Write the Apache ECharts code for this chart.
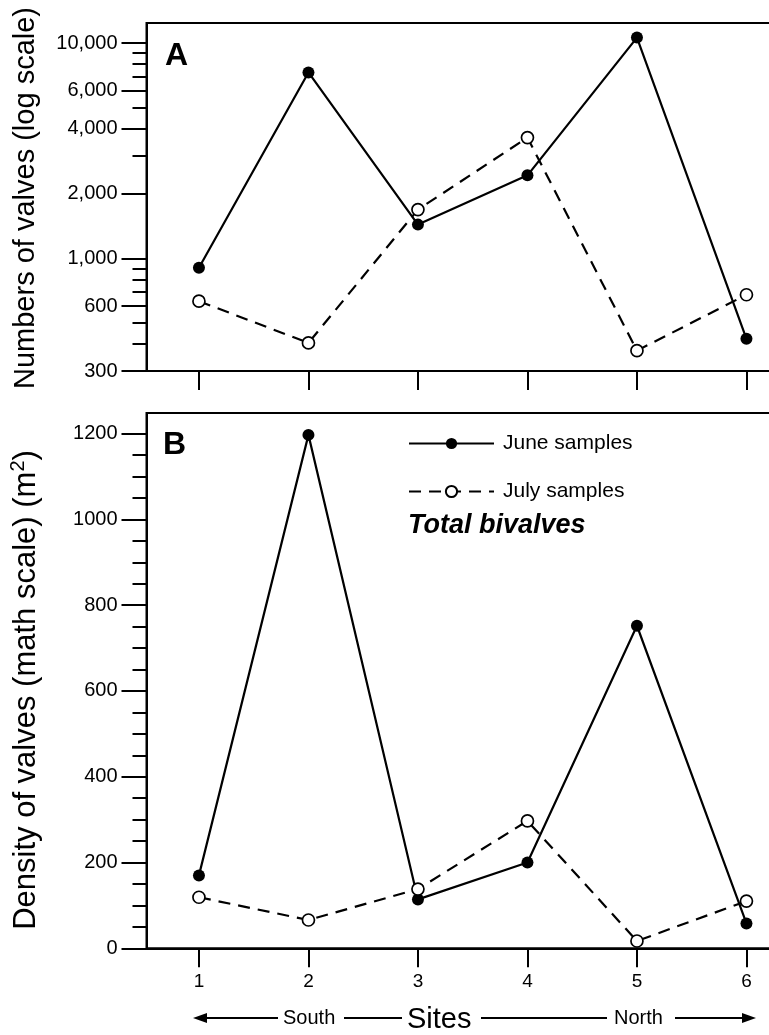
<!DOCTYPE html>
<html><head><meta charset="utf-8">
<script src="https://cdn.jsdelivr.net/npm/echarts@6/dist/echarts.min.js"></script>
<style>html,body{margin:0;padding:0;background:#fff;overflow:hidden;width:769px;height:1035px}#c{width:800px;height:1035px}</style>
</head><body><div id="c"></div>
<script>
// ---- data ----
const sites = [1, 2, 3, 4, 5, 6];
const siteLabels = ['1', '2', '3', '4', '5', '6'];
const juneCounts = [905, 7300, 1435, 2430, 10600, 423];
const julyCounts = [633, 405, 1685, 3640, 373, 678];
const juneDensity = [170, 1197, 114, 200, 752, 58];
const julyDensity = [119, 66, 138, 297, 17, 110];
const countTicks = [300, 600, 1000, 2000, 4000, 6000, 10000];
const countMinorTicks = [400, 500, 700, 800, 900, 3000, 5000, 7000, 8000, 9000];
const densityTicks = [0, 200, 400, 600, 800, 1000, 1200];
const densityMinorTicks = [50, 100, 150, 250, 300, 350, 450, 500, 550, 650, 700, 750, 850, 900, 950, 1050, 1100, 1150];
const seriesNames = ['June samples', 'July samples'];

const FONT = "'Liberation Sans', Arial, Helvetica, sans-serif";
const pairs = (xs, ys) => xs.map((x, i) => [x, ys[i]]);

const chart = echarts.init(document.getElementById('c'), null, {renderer: 'canvas'});

const gridLeft = 146.5, gridW = 652.4;
const xMin = 0.521, xMax = 6.479;

function xAxisCfg(gi, showLabels) {
  return {
    type: 'value', gridIndex: gi, min: xMin, max: xMax, position: 'bottom',
    axisLine: {show: true, lineStyle: {color: '#000', width: 2}},
    axisTick: {show: true, customValues: sites, length: 19, lineStyle: {color: '#000', width: 2}},
    axisLabel: {show: showLabels, customValues: sites, formatter: v => siteLabels[sites.indexOf(v)],
      fontSize: 19, color: '#000', margin: 24, fontFamily: FONT},
    splitLine: {show: false}
  };
}

function yMajor(gi, type, min, max, ticks, fmt) {
  return {
    type: type, gridIndex: gi, min: min, max: max, logBase: 10, position: 'left',
    axisLine: {show: true, lineStyle: {color: '#000', width: 2}},
    axisTick: {show: true, customValues: ticks, length: 25, lineStyle: {color: '#000', width: 2}},
    axisLabel: {show: true, customValues: ticks, formatter: fmt, fontSize: 20, color: '#000', margin: 29, fontFamily: FONT},
    splitLine: {show: false}, minorTick: {show: false}
  };
}
function yMinor(gi, type, min, max, ticks) {
  return {
    type: type, gridIndex: gi, min: min, max: max, logBase: 10, position: 'left', offset: 0,
    axisLine: {show: false},
    axisTick: {show: true, customValues: ticks, length: 14, lineStyle: {color: '#000', width: 2}},
    axisLabel: {show: false},
    splitLine: {show: false}
  };
}

const juneStyle = {
  symbol: 'circle', symbolSize: 12,
  itemStyle: {color: '#000'},
  lineStyle: {color: '#000', width: 2.2, type: 'solid'}
};
const julyStyle = {
  symbol: 'circle', symbolSize: 12,
  itemStyle: {color: '#fff', borderColor: '#000', borderWidth: 1.7},
  lineStyle: {color: '#000', width: 2.2, type: [12, 8]}
};

const option = {
  animation: false,
  backgroundColor: '#fff',
  textStyle: {fontFamily: FONT, color: '#000'},
  grid: [
    {left: gridLeft, top: 23, width: gridW, height: 348, show: true, borderColor: '#000', borderWidth: 2, backgroundColor: 'transparent'},
    {left: gridLeft, top: 413, width: gridW, height: 535.3, show: true, borderColor: '#000', borderWidth: 2, backgroundColor: 'transparent'}
  ],
  xAxis: [xAxisCfg(0, false), xAxisCfg(1, true)],
  yAxis: [
    yMajor(0, 'log', 300, 12390, countTicks, v => Number(v).toLocaleString('en-US')),
    yMinor(0, 'log', 300, 12390, countMinorTicks),
    yMajor(1, 'value', 0, 1248, densityTicks, v => String(v)),
    yMinor(1, 'value', 0, 1248, densityMinorTicks)
  ],
  legend: {
    data: seriesNames,
    orient: 'vertical', left: 403, top: 428,
    itemWidth: 85, itemHeight: 14, itemGap: 27,
    textStyle: {fontSize: 21, color: '#000', fontFamily: FONT, padding: [0, 0, 0, 4]},
    selectedMode: false
  },
  series: [
    Object.assign({name: seriesNames[0], type: 'line', xAxisIndex: 0, yAxisIndex: 0, data: pairs(sites, juneCounts), z: 3}, juneStyle),
    Object.assign({name: seriesNames[1], type: 'line', xAxisIndex: 0, yAxisIndex: 0, data: pairs(sites, julyCounts), z: 4}, julyStyle),
    Object.assign({name: seriesNames[0], type: 'line', xAxisIndex: 1, yAxisIndex: 2, data: pairs(sites, juneDensity), z: 3}, juneStyle),
    Object.assign({name: seriesNames[1], type: 'line', xAxisIndex: 1, yAxisIndex: 2, data: pairs(sites, julyDensity), z: 4}, julyStyle)
  ],
  graphic: [
    {type: 'text', left: 165, top: 40, style: {text: 'A', font: 'bold 32px ' + FONT, fill: '#000'}},
    {type: 'text', left: 163, top: 429, style: {text: 'B', font: 'bold 32px ' + FONT, fill: '#000'}},
    {type: 'text', left: 408, top: 512, style: {text: 'Total bivalves', font: 'italic bold 27px ' + FONT, fill: '#000'}},
    {type: 'text', x: 26, y: 198, rotation: Math.PI / 2,
      style: {text: 'Numbers of valves (log scale)', font: '29px ' + FONT, fill: '#000', textAlign: 'center', textVerticalAlign: 'middle'}},
    {type: 'text', x: 26, y: 690, rotation: Math.PI / 2,
      style: {text: '{a|Density of valves (math scale) (m}{s|2}{a|)}', textAlign: 'center', textVerticalAlign: 'middle',
        rich: {a: {fontSize: 31, fontFamily: FONT, color: '#000'}, s: {fontSize: 20, fontFamily: FONT, color: '#000', padding: [0, 0, 15, 0]}}}},
    // bottom annotation
    {type: 'polygon', shape: {points: [[193, 1018], [207, 1013], [207, 1023]]}, style: {fill: '#000'}},
    {type: 'line', shape: {x1: 205, y1: 1018, x2: 278, y2: 1018}, style: {stroke: '#000', lineWidth: 2}},
    {type: 'text', left: 283, top: 1008, style: {text: 'South', font: '20px ' + FONT, fill: '#000'}},
    {type: 'line', shape: {x1: 344, y1: 1018, x2: 402, y2: 1018}, style: {stroke: '#000', lineWidth: 2}},
    {type: 'text', left: 407, top: 1005, style: {text: 'Sites', font: '29px ' + FONT, fill: '#000'}},
    {type: 'line', shape: {x1: 481, y1: 1018, x2: 607, y2: 1018}, style: {stroke: '#000', lineWidth: 2}},
    {type: 'text', left: 614, top: 1008, style: {text: 'North', font: '20px ' + FONT, fill: '#000'}},
    {type: 'line', shape: {x1: 675, y1: 1018, x2: 745, y2: 1018}, style: {stroke: '#000', lineWidth: 2}},
    {type: 'polygon', shape: {points: [[756, 1018], [742, 1013], [742, 1023]]}, style: {fill: '#000'}}
  ]
};
chart.setOption(option);
</script>
</body></html>
